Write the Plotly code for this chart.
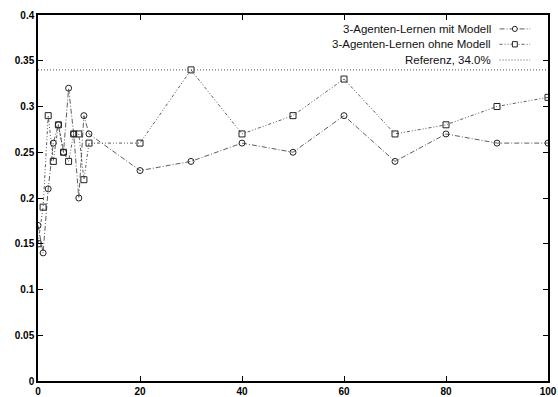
import plotly.graph_objects as go

x_vals = [0, 1, 2, 3, 4, 5, 6, 7, 8, 9, 10, 20, 30, 40, 50, 60, 70, 80, 90, 100]
mit_modell = [0.17, 0.14, 0.21, 0.26, 0.28, 0.25, 0.32, 0.27, 0.20, 0.29, 0.27,
              0.23, 0.24, 0.26, 0.25, 0.29, 0.24, 0.27, 0.26, 0.26]
ohne_modell = [0.15, 0.19, 0.29, 0.24, 0.28, 0.25, 0.24, 0.27, 0.27, 0.22, 0.26,
               0.26, 0.34, 0.27, 0.29, 0.33, 0.27, 0.28, 0.30, 0.31]
referenz = 0.34
labels = ["3-Agenten-Lernen mit Modell", "3-Agenten-Lernen ohne Modell", "Referenz, 34.0%"]
x_ticks = [0, 20, 40, 60, 80, 100]
y_ticks = [0, 0.05, 0.1, 0.15, 0.2, 0.25, 0.3, 0.35, 0.4]
y_ticktext = ["0", "0.05", "0.1", "0.15", "0.2", "0.25", "0.3", "0.35", "0.4"]

FONT = "Liberation Sans, Arial, sans-serif"
LC = "#333333"

fig = go.Figure()
fig.add_trace(go.Scatter(
    x=x_vals, y=mit_modell, mode="lines+markers", name=labels[0], showlegend=False,
    line=dict(color=LC, width=0.8, dash="5px,2px,1px,2px"),
    marker=dict(symbol="circle-open", size=6, color="#222", line=dict(width=1)),
))
fig.add_trace(go.Scatter(
    x=x_vals, y=ohne_modell, mode="lines+markers", name=labels[1], showlegend=False,
    line=dict(color=LC, width=0.8, dash="3px,2px,1px,2px,1px,2px"),
    marker=dict(symbol="square-open", size=6, color="#222", line=dict(width=1)),
))
fig.add_shape(type="line", xref="paper", x0=0, x1=1, yref="y", y0=referenz, y1=referenz,
              line=dict(color="#555", width=1, dash="1px,2px"))

# custom legend (text right-aligned, sample on the right)
leg_y = [0.962, 0.92, 0.877]
tx = 0.892
sx0, sx1 = 0.905, 0.965
for i, lab in enumerate(labels):
    fig.add_annotation(xref="paper", yref="paper", x=tx, y=leg_y[i], text=lab,
                       showarrow=False, xanchor="right", yanchor="middle",
                       font=dict(family=FONT, size=11.5, color="#111"))
dashes = ["5px,2px,1px,2px", "3px,2px,1px,2px,1px,2px", "1px,2px"]
for i in range(3):
    fig.add_shape(type="line", xref="paper", yref="paper", x0=sx0, x1=sx1,
                  y0=leg_y[i], y1=leg_y[i],
                  line=dict(color=LC if i < 2 else "#555", width=0.8 if i < 2 else 1, dash=dashes[i]))
xm = (sx0 + sx1) / 2
dx, dy = 0.0048, 0.0072
fig.add_shape(type="circle", xref="paper", yref="paper", x0=xm - dx, x1=xm + dx,
              y0=leg_y[0] - dy, y1=leg_y[0] + dy, line=dict(color="#222", width=1),
              fillcolor="white")
fig.add_shape(type="rect", xref="paper", yref="paper", x0=xm - dx, x1=xm + dx,
              y0=leg_y[1] - dy, y1=leg_y[1] + dy, line=dict(color="#222", width=1),
              fillcolor="white")

axis_common = dict(
    showgrid=False, zeroline=False, showline=True, linecolor="black", linewidth=1.5,
    mirror="ticks", ticks="inside", ticklen=5, tickcolor="black", tickwidth=1,
    tickfont=dict(family=FONT, size=10, color="black", weight="bold"),
    automargin=False,
)
fig.update_xaxes(range=[0, 100], tickvals=x_ticks, **axis_common)
fig.update_yaxes(range=[0, 0.4], tickvals=y_ticks, ticktext=y_ticktext, **axis_common)

fig.update_layout(
    width=558, height=397,
    margin=dict(l=38, r=10, t=15, b=16),
    plot_bgcolor="white", paper_bgcolor="white",
    font=dict(family=FONT, size=10, color="black"),
)
fig.write_html("out.html", config={"displayModeBar": False},
               post_script="document.body.style.margin='0';document.body.style.overflow='hidden';")
